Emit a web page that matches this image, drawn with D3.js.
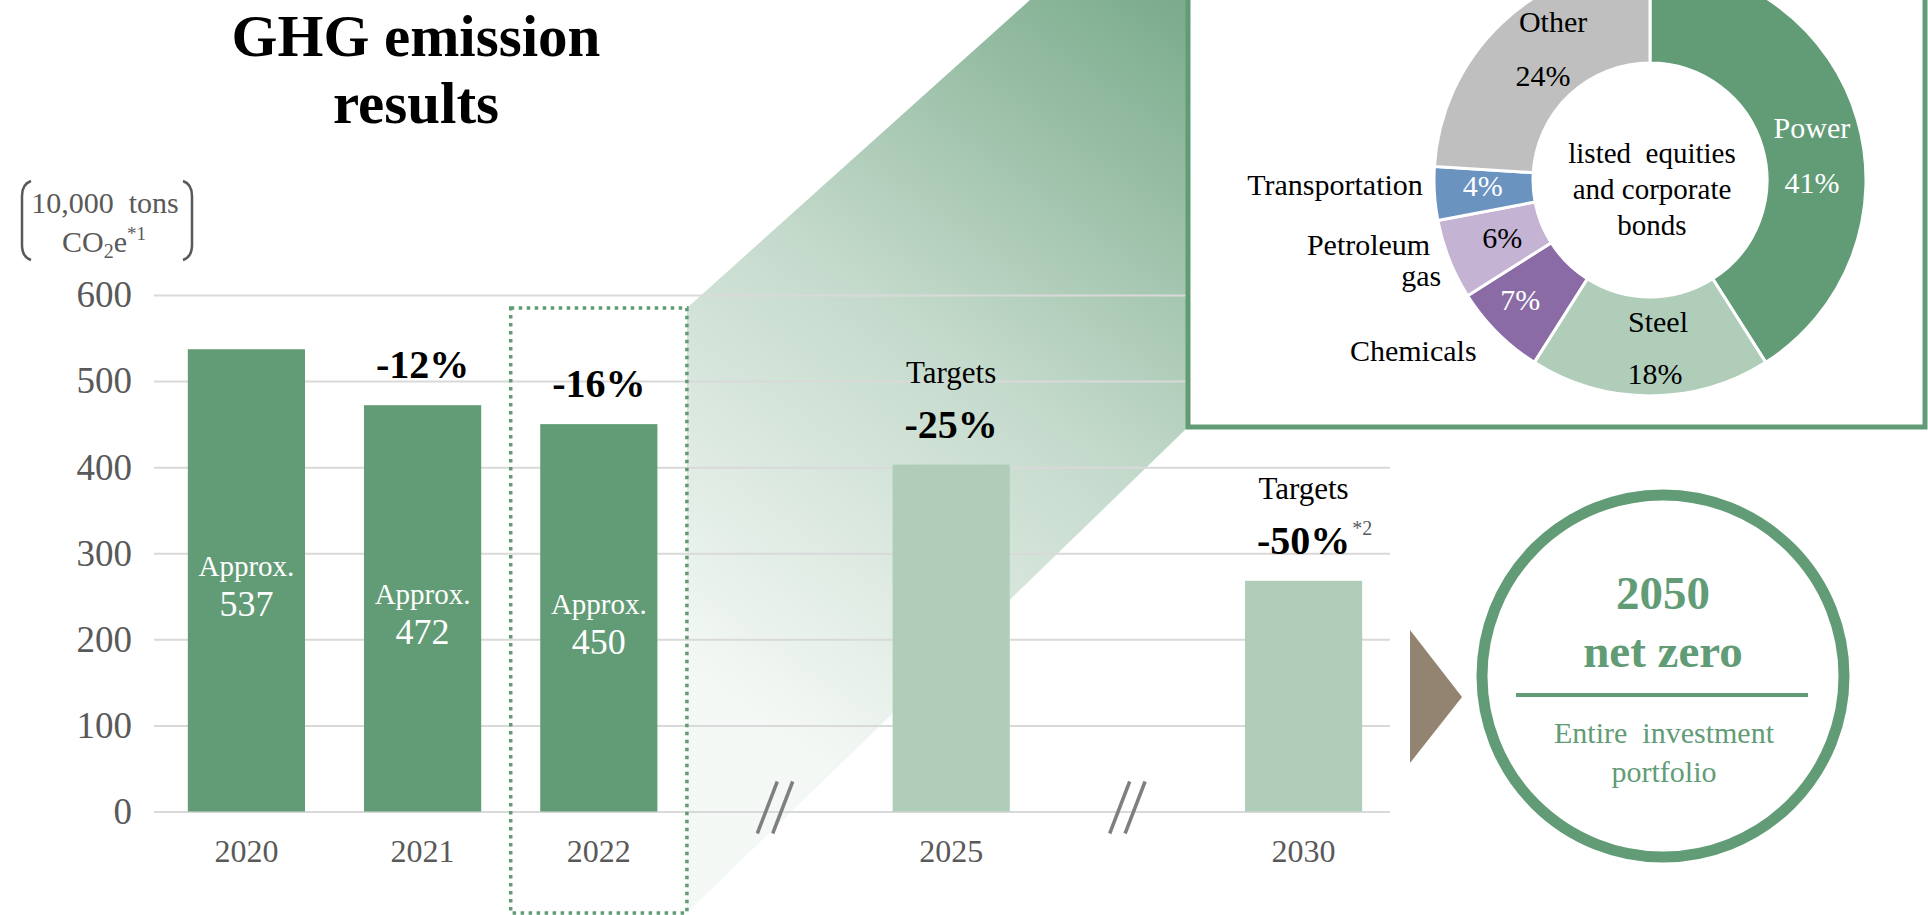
<!DOCTYPE html>
<html>
<head>
<meta charset="utf-8">
<script src="https://cdn.jsdelivr.net/npm/d3@7"></script>
<style>
  body { margin: 0; background: #fff; }
  svg { display: block; font-family: "Liberation Serif", "Times New Roman", serif; }
  text { white-space: pre; }
</style>
</head>
<body>
<script>
// bar chart values (10,000 tons CO2e)
var years = ["2020", "2021", "2022", "2025", "2030"];
var emissions = [537, 472, 450, 403, 268];
var barKind = ["actual", "actual", "actual", "target", "target"];
var changeText = ["", "-12%", "-16%", "-25%", "-50%"];
var changeNote = ["", "", "", "", "*2"];
var approxText = ["537", "472", "450", "", ""];
// x slots, with the two axis breaks
var xSlots = ["2020", "2021", "2022", "break1", "2025", "break2", "2030"];
var breakSlots = ["break1", "break2"];
var yTicks = [0, 100, 200, 300, 400, 500, 600];

// donut: emissions by sector (listed equities and corporate bonds)
var sectors = ["Power", "Steel", "Chemicals", "Petroleum gas", "Transportation", "Other"];
var shares = [41, 18, 7, 6, 4, 24];

var green = "#629c76", lightGreen = "#b0cdb9", grey = "#595959";

var svg = d3.select("body").append("svg")
    .attr("width", 1928)
    .attr("height", 915);

var gridLeft = 154, gridRight = 1390;

var x = d3.scaleBand()
    .domain(xSlots)
    .range([154, 1396])
    .paddingInner(0.335)
    .paddingOuter(0.192);

var y = d3.scaleLinear()
    .domain([0, 600])
    .range([811.5, 295]);

// green fan from the 2022 box to the donut box
var boxLeft = 1188, boxBottom = 427;
var selLeft = x("2022") - x.step() * x.paddingInner() / 2,
    selRight = x("2022") + x.bandwidth() + x.step() * x.paddingInner() / 2,
    selTop = 308, selBottom = 913;

var defs = svg.append("defs");
var grad = defs.append("linearGradient")
    .attr("id", "fan")
    .attr("gradientUnits", "userSpaceOnUse")
    .attr("x1", 700).attr("y1", 680)
    .attr("x2", boxLeft).attr("y2", 0);
grad.append("stop").attr("offset", 0).attr("stop-color", green).attr("stop-opacity", 0.07);
grad.append("stop").attr("offset", 0.5).attr("stop-color", green).attr("stop-opacity", 0.38);
grad.append("stop").attr("offset", 1).attr("stop-color", green).attr("stop-opacity", 0.85);

svg.append("polygon")
    .attr("points", [[selRight, selTop], [1030, 0], [boxLeft, 0], [boxLeft, boxBottom], [selRight, selBottom]].join(" "))
    .attr("fill", "url(#fan)");

// y axis + grid
var yAxis = svg.append("g")
    .attr("transform", "translate(" + gridLeft + ",0)")
    .call(d3.axisLeft(y).tickValues(yTicks).tickSize(-(gridRight - gridLeft)).tickPadding(22));
yAxis.attr("font-family", null).attr("font-size", null);
yAxis.select(".domain").remove();
yAxis.selectAll("line").attr("stroke", "#d9d9d9").attr("stroke-width", 2);
yAxis.selectAll("text").attr("fill", grey).style("font-size", "37px");

// x axis
var xAxis = svg.append("g")
    .attr("transform", "translate(0," + y(0) + ")")
    .call(d3.axisBottom(x).tickValues(years).tickSize(0).tickPadding(28));
xAxis.attr("font-family", null).attr("font-size", null);
xAxis.select(".domain").remove();
xAxis.selectAll("text").attr("fill", grey).style("font-size", "32px");

var bars = years.map(function(d, i) {
  return {year: d, value: emissions[i], kind: barKind[i], change: changeText[i],
          note: changeNote[i], approx: approxText[i]};
});

svg.append("g")
  .selectAll("rect")
  .data(bars)
  .enter()
  .append("rect")
    .attr("x", function(d) { return x(d.year); })
    .attr("y", function(d) { return y(d.value); })
    .attr("width", x.bandwidth())
    .attr("height", function(d) { return y(0) - y(d.value); })
    .attr("fill", function(d) { return d.kind == "actual" ? green : lightGreen; });

// axis break marks
breakSlots.forEach(function(s) {
  var cx = x(s) + x.bandwidth() / 2, cy = y(0) - 4;
  [-7.7, 7.7].forEach(function(o) {
    svg.append("line")
      .attr("x1", cx + o - 10).attr("y1", cy + 26)
      .attr("x2", cx + o + 10).attr("y2", cy - 26)
      .attr("stroke", "#7f7f7f")
      .attr("stroke-width", 3.5);
  });
});

// dotted frame round 2022
svg.append("rect")
    .attr("x", selLeft).attr("y", selTop)
    .attr("width", selRight - selLeft).attr("height", selBottom - selTop)
    .attr("fill", "none")
    .attr("stroke", "#5f9c73")
    .attr("stroke-width", 3.5)
    .attr("stroke-dasharray", "3.5,4.5");

// labels on bars
bars.forEach(function(d) {
  var cx = x(d.year) + x.bandwidth() / 2;
  var top = y(d.value), mid = (y(d.value) + y(0)) / 2;
  if (d.approx) {
    svg.append("text").attr("x", cx).attr("y", mid - 4)
      .attr("text-anchor", "middle").attr("fill", "#fff")
      .style("font-size", "29px").text("Approx.");
    svg.append("text").attr("x", cx).attr("y", mid + 36)
      .attr("text-anchor", "middle").attr("fill", "#fff")
      .style("font-size", "36px").text(d.approx);
  }
  if (d.kind == "target") {
    svg.append("text").attr("x", cx).attr("y", top - 82)
      .attr("text-anchor", "middle").attr("fill", "#000")
      .style("font-size", "31px").text("Targets");
  }
  if (d.change) {
    var t = svg.append("text").attr("x", cx).attr("y", top - 27)
      .attr("text-anchor", "middle").attr("fill", "#000")
      .style("font-size", "40px").style("font-weight", "bold").text(d.change);
    if (d.note) {
      var w = t.node().getComputedTextLength();
      svg.append("text").attr("x", cx + w / 2 + 2).attr("y", top - 46)
        .attr("fill", grey).style("font-size", "20px").text(d.note);
    }
  }
});

// title
svg.append("text").attr("x", 416).attr("y", 56)
  .attr("text-anchor", "middle").style("font-size", "59px").style("font-weight", "bold")
  .text("GHG emission");
svg.append("text").attr("x", 416).attr("y", 123)
  .attr("text-anchor", "middle").style("font-size", "59px").style("font-weight", "bold")
  .text("results");

// unit
svg.append("text").attr("x", 105).attr("y", 213)
  .attr("text-anchor", "middle").attr("fill", grey).style("font-size", "30px")
  .text("10,000  tons");
var unit2 = svg.append("text").attr("x", 104).attr("y", 252)
  .attr("text-anchor", "middle").attr("fill", grey).style("font-size", "30px");
unit2.append("tspan").text("CO");
unit2.append("tspan").attr("dy", 6).style("font-size", "20px").text("2");
unit2.append("tspan").attr("dy", -6).text("e");
unit2.append("tspan").attr("dy", -12).style("font-size", "19px").text("*1");
svg.append("path").attr("d", "M31,181 Q22,184 22,196 L22,245 Q22,257 31,260")
  .attr("fill", "none").attr("stroke", grey).attr("stroke-width", 2.5);
svg.append("path").attr("d", "M183,181 Q192,184 192,196 L192,245 Q192,257 183,260")
  .attr("fill", "none").attr("stroke", grey).attr("stroke-width", 2.5);

// donut box
svg.append("rect")
    .attr("x", boxLeft).attr("y", -20)
    .attr("width", 1925 - boxLeft).attr("height", boxBottom + 20)
    .attr("fill", "#fff")
    .attr("stroke", green)
    .attr("stroke-width", 5);

var sectorColor = {
  "Power": green, "Steel": lightGreen, "Chemicals": "#8a6ba5",
  "Petroleum gas": "#c5b3d3", "Transportation": "#6b93c0", "Other": "#bfbfbf"
};
// label placement relative to the slice centroid: [line, dx, dy, anchor, colour]
var sectorLabels = {
  "Power":          {name: [["Power", 2, 4.5, "middle", "#fff"]], pct: [2, 59, "#fff"]},
  "Steel":          {name: [["Steel", 8, -15, "middle", "#000"]], pct: [5, 37, "#000"]},
  "Chemicals":      {name: [["Chemicals", -119, 63, "middle", "#000"]], pct: [-12, 12, "#fff"]},
  "Petroleum gas":  {name: [["Petroleum", -65, 14, "end", "#000"], ["gas", -54, 45, "end", "#000"]], pct: [7, 7, "#000"]},
  "Transportation": {name: [["Transportation", -61, 4.5, "end", "#000"]], pct: [-1, 6, "#fff"]},
  "Other":          {name: [["Other", 17, -27, "middle", "#000"]], pct: [7, 27, "#000"]}
};

var slices = sectors.map(function(s, i) { return {sector: s, share: shares[i]}; });
var pie = d3.pie().sort(null).value(function(d) { return d.share; });
var arc = d3.arc().innerRadius(117).outerRadius(216);

var donut = svg.append("g").attr("transform", "translate(1650,180)");
var arcs = pie(slices);
donut.selectAll("path")
  .data(arcs)
  .enter()
  .append("path")
    .attr("d", arc)
    .attr("fill", function(d) { return sectorColor[d.data.sector]; })
    .attr("stroke", "#fff")
    .attr("stroke-width", 3);

arcs.forEach(function(d) {
  var c = arc.centroid(d), lab = sectorLabels[d.data.sector];
  lab.name.forEach(function(n) {
    donut.append("text").attr("x", c[0] + n[1]).attr("y", c[1] + n[2])
      .attr("text-anchor", n[3]).attr("fill", n[4]).style("font-size", "30px").text(n[0]);
  });
  donut.append("text").attr("x", c[0] + lab.pct[0]).attr("y", c[1] + lab.pct[1])
    .attr("text-anchor", "middle").attr("fill", lab.pct[2]).style("font-size", "30px")
    .text(d.data.share + "%");
});

["listed  equities", "and corporate", "bonds"].forEach(function(t, i) {
  donut.append("text").attr("x", 2).attr("y", -17 + i * 36)
    .attr("text-anchor", "middle").attr("fill", "#000").style("font-size", "29px").text(t);
});

// arrow + net zero circle
svg.append("polygon").attr("points", "1410,630 1462,697 1410,763").attr("fill", "#928470");
svg.append("circle").attr("cx", 1663).attr("cy", 676).attr("r", 181)
  .attr("fill", "#fff").attr("stroke", green).attr("stroke-width", 11);
svg.append("text").attr("x", 1663).attr("y", 609).attr("text-anchor", "middle")
  .attr("fill", green).style("font-size", "47px").style("font-weight", "bold").text("2050");
svg.append("text").attr("x", 1663).attr("y", 667).attr("text-anchor", "middle")
  .attr("fill", green).style("font-size", "47px").style("font-weight", "bold").text("net zero");
svg.append("line").attr("x1", 1516).attr("x2", 1808).attr("y1", 695).attr("y2", 695)
  .attr("stroke", green).attr("stroke-width", 4);
svg.append("text").attr("x", 1664).attr("y", 743).attr("text-anchor", "middle")
  .attr("fill", green).style("font-size", "30px").text("Entire  investment");
svg.append("text").attr("x", 1664).attr("y", 782).attr("text-anchor", "middle")
  .attr("fill", green).style("font-size", "30px").text("portfolio");
</script>
</body>
</html>
